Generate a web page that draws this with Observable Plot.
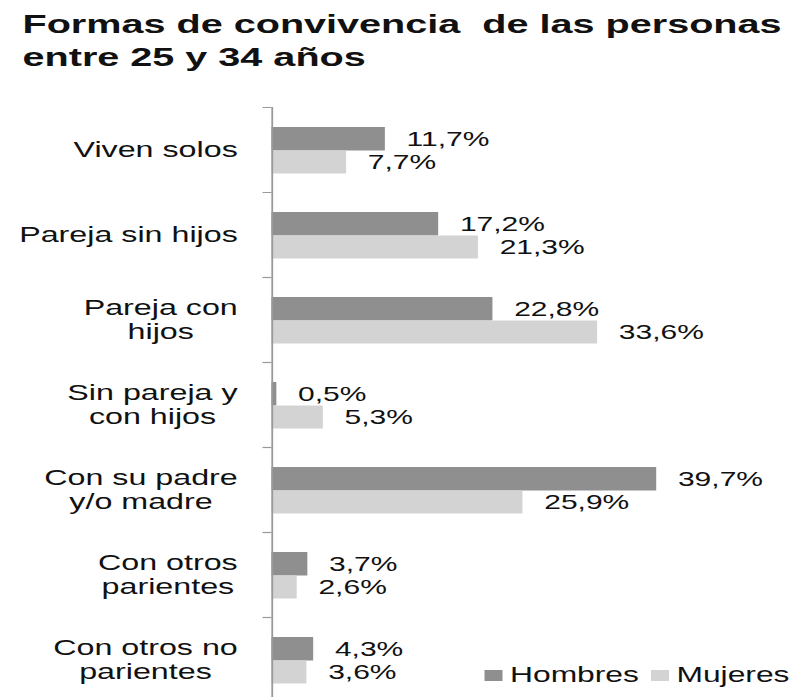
<!DOCTYPE html>
<html>
<head>
<meta charset="utf-8">
<script src="https://cdn.jsdelivr.net/npm/d3@7"></script>
<script src="https://cdn.jsdelivr.net/npm/@observablehq/plot@0.6"></script>
<style>
  html, body { margin: 0; padding: 0; background: #fff; overflow: hidden; width: 794px; height: 697px; }
  #wrap { width: 529px; transform: scaleX(1.5); transform-origin: 0 0; position: relative;
          font-family: "Liberation Sans", Arial, sans-serif; color: #111; }
  #title { font-weight: bold; font-size: 26.4px; line-height: 33px; padding: 8px 0 0 15px;
           height: 90px; box-sizing: border-box; white-space: nowrap; }
  #legend { position: absolute; left: 323px; top: 664px; display: flex; align-items: center;
            font-size: 21.2px; line-height: 22px; white-space: nowrap; }
  #legend .sw { display: inline-block; width: 12px; height: 11px; margin-right: 5px; }
</style>
</head>
<body>
<div id="wrap">
  <div id="title">Formas de convivencia&nbsp; de las personas<br>entre 25 y 34 años</div>
  <div id="chart"></div>
  <div id="legend"></div>
</div>
<script>
const categorias = ["Viven solos", "Pareja sin hijos", "Pareja con\nhijos", "Sin pareja y\ncon hijos",
                    "Con su padre\ny/o madre", "Con otros\nparientes", "Con otros no\nparientes"];
const hombres = [11.7, 17.2, 22.8, 0.5, 39.7, 3.7, 4.3];
const mujeres = [7.7, 21.3, 33.6, 5.3, 25.9, 2.6, 3.6];
const series = ["Hombres", "Mujeres"];
const colores = ["#8f8f8f", "#d3d3d3"];

const rows = categorias.map((c, i) => ({cat: c, hombres: hombres[i], mujeres: mujeres[i]}));
const fmt = v => v.toFixed(1).replace(".", ",") + "%";

const chart = Plot.plot({
  width: 529, height: 612,
  marginLeft: 181, marginRight: 25, marginTop: 17, marginBottom: 0,
  x: {domain: [0, 50], axis: null},
  y: {domain: categorias, padding: 0, axis: null},
  style: {fontFamily: "'Liberation Sans', Arial, sans-serif", background: "#fff", color: "#111"},
  marks: [
    Plot.barX(rows, {y: "cat", x: "hombres", fill: colores[0], insetTop: 20, insetBottom: 41.5}),
    Plot.barX(rows, {y: "cat", x: "mujeres", fill: colores[1], insetTop: 43.5, insetBottom: 18.5}),
    Plot.text(rows, {y: "cat", x: "hombres", text: d => fmt(d.hombres), textAnchor: "start",
                     dx: 14, dy: -10, fontSize: 20, fill: "#111"}),
    Plot.text(rows, {y: "cat", x: "mujeres", text: d => fmt(d.mujeres), textAnchor: "start",
                     dx: 14, dy: 13, fontSize: 20, fill: "#111"}),
    Plot.ruleX([0], {stroke: "#999", strokeWidth: 1.2}),
    Plot.ruleY(rows, {y: "cat", x1: 0, x2: 0, insetLeft: -6, dy: -42.5, stroke: "#999", strokeWidth: 1.2}),
    Plot.text(rows, {y: "cat", x: 0, text: "cat", textAnchor: "middle", dx: -23, dy: -1,
                     fontSize: 21.5, lineHeight: 1.13, fill: "#111"})
  ]
});
document.getElementById("chart").appendChild(chart);

// lines of each category label centered on each other, the block right-aligned near the axis
const plain = new Set(categorias.map(c => c.replace(/\n/g, "")));
chart.querySelectorAll("text").forEach(t => {
  if (!plain.has(t.textContent.replace(/\n/g, ""))) return;
  const w = t.getBBox().width;
  t.querySelectorAll("tspan").forEach(s => s.setAttribute("x", -w / 2));
  if (!t.querySelector("tspan")) t.setAttribute("x", -w / 2);
});

const legend = document.getElementById("legend");
series.forEach((s, i) => {
  const item = document.createElement("span");
  item.style.display = "flex";
  item.style.alignItems = "center";
  item.style.marginRight = i === 0 ? "8px" : "0";
  item.innerHTML = `<span class="sw" style="background:${colores[i]}"></span><span>${s}</span>`;
  legend.appendChild(item);
});
</script>
</body>
</html>
